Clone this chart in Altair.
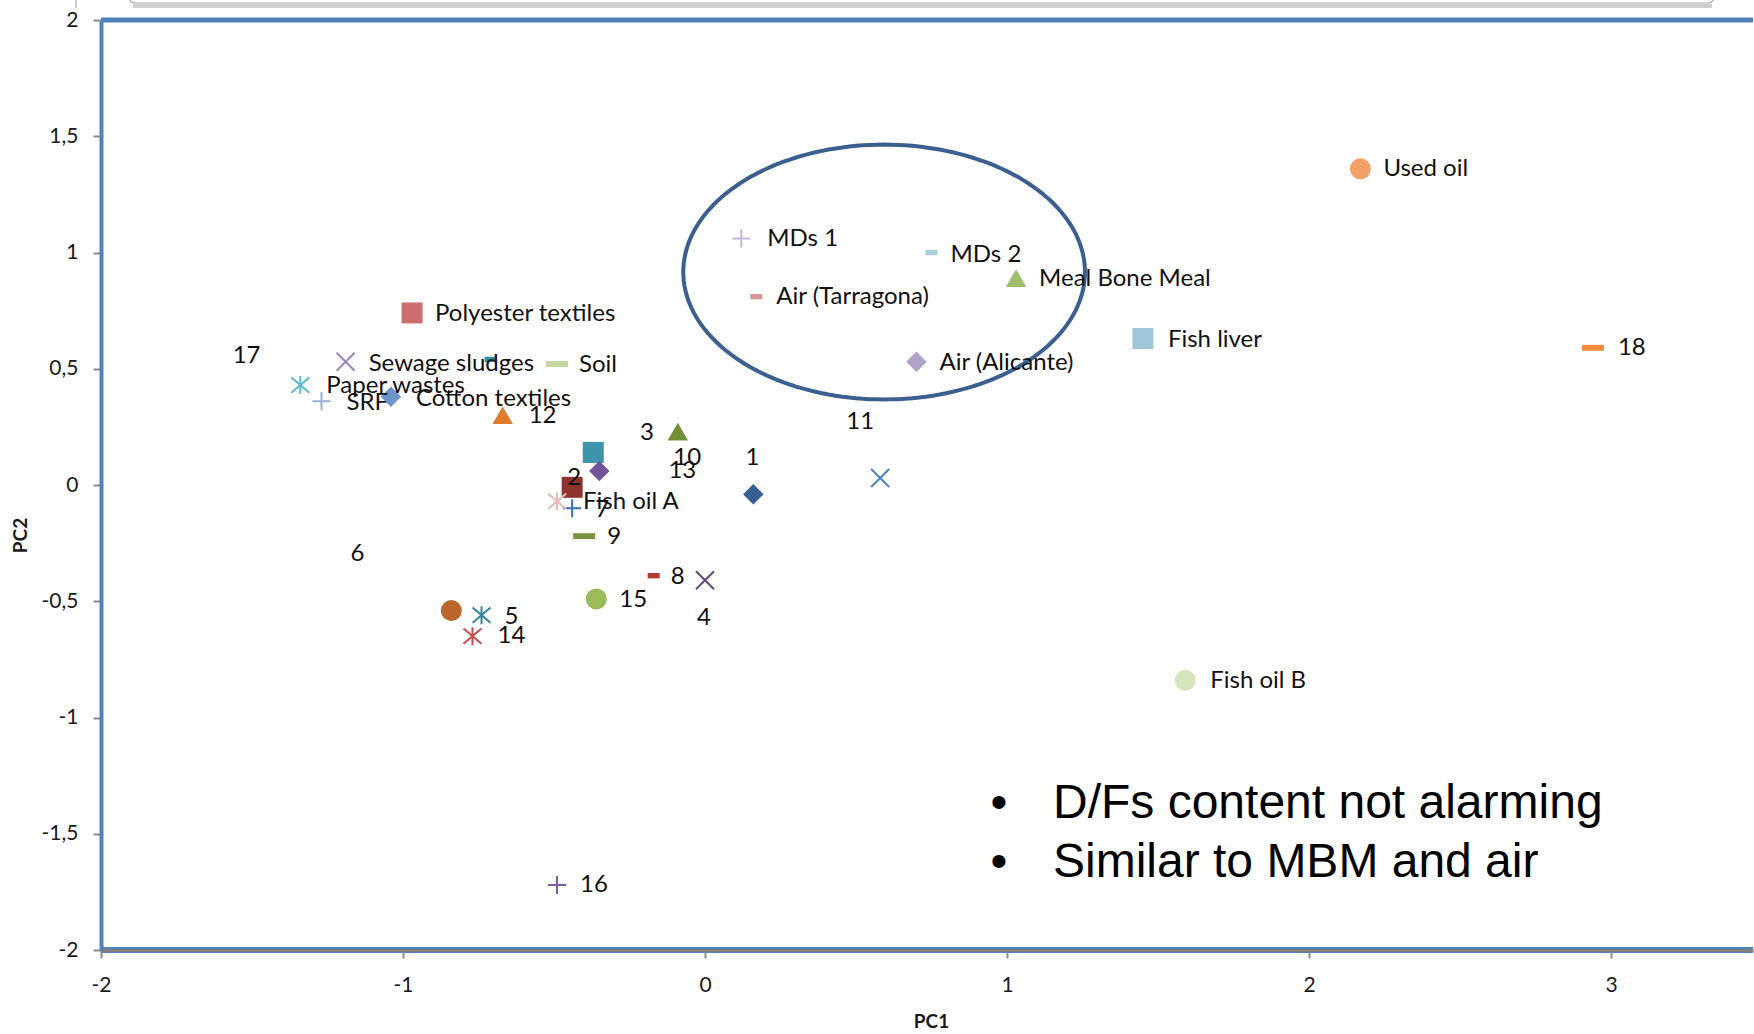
import altair as alt
import numpy as np
import pandas as pd

# ---- sample scores on the first two principal components ----
samples = [
    "1", "2", "3", "4", "5", "6", "7", "8", "9", "10", "11", "12", "13", "14",
    "15", "16", "17", "18",
    "Used oil", "MDs 1", "MDs 2", "Meal Bone Meal", "Air (Tarragona)",
    "Polyester textiles", "Fish liver", "Air (Alicante)", "Sewage sludges",
    "Soil", "Paper wastes", "SRF", "Cotton textiles", "Fish oil A", "Fish oil B",
]
pc1 = [
    0.16, -0.44, -0.09, 0.00, -0.74, -0.84, -0.44, -0.17, -0.40, -0.37, 0.58,
    -0.67, -0.35, -0.77, -0.36, -0.49, -0.71, 2.94,
    2.17, 0.12, 0.75, 1.03, 0.17, -0.97, 1.45, 0.70, -1.19, -0.49, -1.34,
    -1.27, -1.04, -0.49, 1.59,
]
pc2 = [
    -0.04, -0.01, 0.23, -0.41, -0.56, -0.54, -0.10, -0.39, -0.22, 0.14, 0.03,
    0.30, 0.06, -0.65, -0.49, -1.72, 0.54, 0.59,
    1.36, 1.06, 1.00, 0.89, 0.81, 0.74, 0.63, 0.53, 0.53, 0.52, 0.43, 0.36,
    0.38, -0.07, -0.84,
]

# ---- marker styles (one per sample) ----
marker = [
    "diamond", "square", "triangle", "x", "asterisk", "circle", "plus",
    "dash_s", "dash_l", "square", "x", "triangle", "diamond", "asterisk",
    "circle", "plus", "dash_s", "dash_l",
    "circle", "plus", "dash_s", "triangle", "dash_s", "square", "square",
    "diamond", "x", "dash_l", "asterisk", "plus", "diamond", "asterisk", "circle",
]
colour = [
    "#375F92", "#8E3431", "#72903A", "#604A7B", "#31859C", "#B9672A",
    "#3B6FB6", "#B03A36", "#77933C", "#3E95AA", "#4F81BD", "#E07B2E",
    "#71549A", "#C0504D", "#9BBB59", "#7A5AA0", "#2F8FAA", "#EE8A3C",
    "#F5A068", "#C4B6D6", "#A9D0DF", "#9DBE6A", "#D99694", "#CD6E6E",
    "#9DC6D8", "#B2A2C7", "#9C85C0", "#C3D69B", "#61B7CF", "#95B3D7",
    "#6E95CB", "#E6B9B8", "#D7E4BD",
]

# data-label placement: pixel offset from the marker and text alignment
lab_dx = [
    -1, 2, -31, -1, 23, -94, 30, 17, 23, 94, -20, 26, 83, 25, 23, 23, -244, 25,
    23, 26, 19, 23, 20, 23, 25, 23, 23, 22, 26, 25, 25, 26, 25,
]
lab_dy = [
    -36, -9, 1, 38, 2, -57, 2, 1, 1, 6, -56, 1, 0, 0, 1, 0, -3, 0,
    0, 0, 2, 1, 0, 1, 1, 1, 2, 1, 1, 2, 2, 1, 1,
]
lab_align = [
    "center", "center", "center", "center", "left", "center", "center",
    "left", "left", "center", "center", "left", "center", "left", "left",
    "left", "center", "left",
] + ["left"] * 15

# ---- geometry ----
W, H = 1652, 930
X_DOM = [-2, 3.47]
Y_DOM = [-2, 2]
PX_X = W / (X_DOM[1] - X_DOM[0])
PX_Y = H / (Y_DOM[1] - Y_DOM[0])

SHAPES = {
    "diamond": "diamond",
    "square": "square",
    "circle": "circle",
    "triangle": "triangle-up",
    "plus": "M -1 0 L 1 0 M 0 -1 L 0 1",
    "x": "M -1 -1 L 1 1 M -1 1 L 1 -1",
    "asterisk": "M -1 -0.85 L 1 0.85 M -1 0.85 L 1 -0.85 M 0 -1 L 0 1",
    "dash_s": "M -1 -0.45 L 1 -0.45 L 1 0.45 L -1 0.45 Z",
    "dash_l": "M -1 -0.27 L 1 -0.27 L 1 0.27 L -1 0.27 Z",
}
SIZES = {
    "diamond": 420, "square": 441, "circle": 441, "triangle": 420,
    "plus": 324, "x": 324, "asterisk": 324, "dash_s": 144, "dash_l": 484,
}
STROKED = {"plus", "x", "asterisk"}

pts = pd.DataFrame({
    "sample": samples, "pc1": pc1, "pc2": pc2,
    "shape": [SHAPES[m] for m in marker],
    "size": [SIZES[m] for m in marker],
    "colour": colour,
    "stroked": [m in STROKED for m in marker],
})
labels = pd.DataFrame({
    "sample": samples,
    "pc1": [x + dx / PX_X for x, dx in zip(pc1, lab_dx)],
    "pc2": [y - dy / PX_Y for y, dy in zip(pc2, lab_dy)],
    "align": lab_align,
})

# grouping ellipse around the air / MDs / MBM samples
ell_cx, ell_cy, ell_rx, ell_ry = 0.593, 0.916, 0.665, 0.548
t = np.linspace(0, 2 * np.pi, 181)
ellipse = pd.DataFrame({
    "pc1": ell_cx + ell_rx * np.cos(t),
    "pc2": ell_cy + ell_ry * np.sin(t),
    "k": np.arange(t.size),
})

one = pd.DataFrame({"k": [0]})

LABEL_FONT = "Lato"
FRAME_BLUE = "#4F81BD"

X = alt.X(
    "pc1:Q",
    scale=alt.Scale(domain=X_DOM, nice=False, zero=False),
    axis=alt.Axis(
        values=[-2, -1, 0, 1, 2, 3], labelExpr="datum.value + ''",
        labelFlush=False, labelFont=LABEL_FONT, labelFontSize=21,
        labelColor="#1a1a1a", labelPadding=16,
        tickColor="#8C8C8C", tickSize=8, tickWidth=2,
        domainColor="#7F7F7F", domainWidth=3, grid=False,
        title="PC1", titleFont=LABEL_FONT, titleFontSize=19,
        titleFontWeight="bold", titleColor="#1a1a1a",
        titleX=830, titleY=71, titleBaseline="middle", titleAlign="center",
        zindex=1,
    ),
)
Y = alt.Y(
    "pc2:Q",
    scale=alt.Scale(domain=Y_DOM, nice=False, zero=False),
    axis=alt.Axis(
        values=[-2, -1.5, -1, -0.5, 0, 0.5, 1, 1.5, 2],
        labelExpr="replace(datum.value + '', '.', ',')",
        labelFlush=False, labelFont=LABEL_FONT, labelFontSize=21,
        labelColor="#1a1a1a", labelPadding=15,
        tickColor="#8C8C8C", tickSize=8, tickWidth=2,
        domainColor=FRAME_BLUE, domainWidth=4, grid=False,
        title="PC2", titleFont=LABEL_FONT, titleFontSize=19,
        titleFontWeight="bold", titleColor="#1a1a1a",
        titleX=-81, titleY=515, titleBaseline="middle", titleAlign="center",
        titleAngle=270, zindex=1,
    ),
)

# frame: blue top edge and blue band under the bottom axis line
frame_top = alt.Chart(one).mark_rule(color=FRAME_BLUE, strokeWidth=5).encode(
    x=alt.value(0), x2=alt.value(W), y=alt.value(0))
frame_bottom = alt.Chart(one).mark_rule(color=FRAME_BLUE, strokeWidth=6).encode(
    x=alt.value(0), x2=alt.value(W), y=alt.value(H))

# edge of the text box sitting above the plot
box = alt.Chart(one).mark_rect(
    fill="white", stroke="#A8A8A8", strokeWidth=1.2, cornerRadius=6
).encode(x=alt.value(28), x2=alt.value(1613), y=alt.value(-60), y2=alt.value(-17))
box_shadow = alt.Chart(one).mark_rule(color="#CFCFCF", strokeWidth=4).encode(
    x=alt.value(32), x2=alt.value(1611), y=alt.value(-14))
box_tick = alt.Chart(one).mark_rule(color="#A0A0A0", strokeWidth=1).encode(
    x=alt.value(-25), y=alt.value(-20), y2=alt.value(-12))

ring = alt.Chart(ellipse).mark_line(color="#3C5F8F", strokeWidth=4).encode(
    x=X, y=Y, order="k:Q")

filled = alt.Chart(pts).transform_filter("!datum.stroked").mark_point(
    filled=True, opacity=1, strokeWidth=0
).encode(
    x=X, y=Y,
    shape=alt.Shape("shape:N", scale=None),
    size=alt.Size("size:Q", scale=None),
    color=alt.Color("colour:N", scale=None),
)
stroked = alt.Chart(pts).transform_filter("datum.stroked").mark_point(
    filled=False, opacity=1, strokeWidth=2
).encode(
    x=X, y=Y,
    shape=alt.Shape("shape:N", scale=None),
    size=alt.Size("size:Q", scale=None),
    color=alt.Color("colour:N", scale=None),
)

text_left = alt.Chart(labels).transform_filter("datum.align == 'left'").mark_text(
    align="left", baseline="middle", font=LABEL_FONT, fontSize=24, color="#111111"
).encode(x=X, y=Y, text="sample:N")
text_center = alt.Chart(labels).transform_filter("datum.align == 'center'").mark_text(
    align="center", baseline="middle", font=LABEL_FONT, fontSize=24, color="#111111"
).encode(x=X, y=Y, text="sample:N")

notes = pd.DataFrame({
    "line": ["D/Fs content not alarming", "Similar to MBM and air"],
    "yy": [798, 857],
})
note_text = alt.Chart(notes).mark_text(
    align="left", baseline="alphabetic", font="Liberation Sans", fontSize=48,
    color="#000000"
).encode(x=alt.value(952), y=alt.Y("yy:Q", scale=None), text="line:N")
note_bullet = alt.Chart(notes).mark_text(
    align="center", baseline="alphabetic", font="Liberation Sans", fontSize=48,
    color="#000000"
).encode(x=alt.value(898), y=alt.Y("yy:Q", scale=None), text=alt.value("•"))

chart = alt.layer(
    box_shadow, box, box_tick, frame_top, frame_bottom, ring,
    filled, stroked, text_left, text_center, note_bullet, note_text,
).properties(
    width=W, height=H,
    autosize=alt.AutoSizeParams(type="none"),
    padding={"left": 101, "top": 20, "right": 1, "bottom": 84},
    background="white",
).configure_view(stroke=None)

chart.save("out.html", embed_options={"renderer": "svg", "actions": False})
